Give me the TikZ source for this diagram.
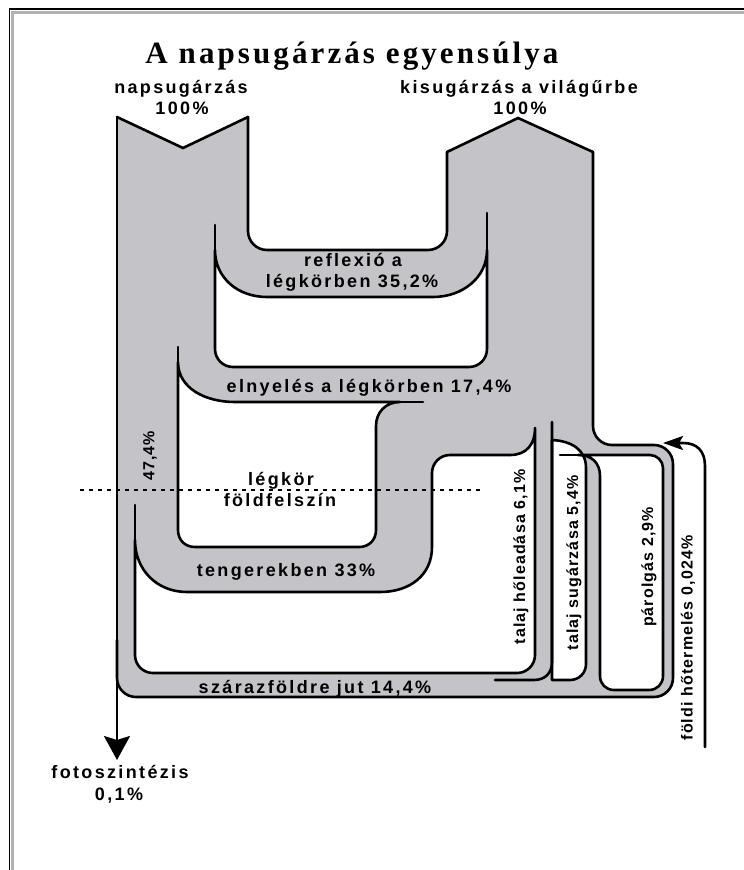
\documentclass[tikz,border=0pt]{standalone}
\usepackage{fontspec}
\newfontfamily\titlefont[LetterSpace=10]{Liberation Serif}
\newfontfamily\lblfont[LetterSpace=13]{Liberation Sans}
\newfontfamily\rotfont[LetterSpace=7]{Liberation Sans}
\usetikzlibrary{arrows.meta}
\definecolor{bandgray}{RGB}{196,196,200}
\begin{document}
\begin{tikzpicture}[x=1pt,y=-1pt,
  outline/.style={line width=2.6pt, line join=round, line cap=round},
  sharpline/.style={line width=2.6pt, line join=miter, line cap=round},
  hole/.style={fill=white},
  title/.style={inner sep=0pt, anchor=base, font=\titlefont\bfseries\fontsize{31}{34}\selectfont},
  lbl/.style={inner sep=0pt, anchor=base, font=\lblfont\bfseries\fontsize{18}{20}\selectfont},
  rotlbl/.style={inner sep=0pt, rotate=90, font=\rotfont\bfseries\fontsize{16}{18}\selectfont},
]
\useasboundingbox (0,0) rectangle (744,870);
% frame
\draw[line width=3pt, gray!60] (12.5,870) -- (12.5,12) -- (744,12);
\draw[line width=1.5pt, black] (9.5,870) -- (9.5,9) -- (744,9);

% gray bands
\fill[bandgray] (117,117) -- (183,148) -- (248,117) -- (248,230) -- (117,230) -- cycle;
\fill[bandgray] (447,152) -- (518,118) -- (593,152) -- (593,240) -- (447,240) -- cycle;
\fill[bandgray, rounded corners=19pt] (117,200) -- (248,200) -- (248,250) -- (447,250) -- (447,200) -- (593,200) -- (593,445) -- (673,445) -- (673,697) -- (117,697) -- cycle;

% outer outline
\draw[sharpline] (117,117) -- (183,148) -- (248,117);
\draw[outline, rounded corners=19pt] (248,117) -- (248,250) -- (447,250) -- (447,152);
\draw[sharpline] (447,152) -- (518,118) -- (593,152);
\draw[outline, rounded corners=19pt] (593,152) -- (593,445) -- (673,445) -- (673,697) -- (117,697) -- (117,640);
\draw[outline] (117,117) -- (117,697);

% W2 : below reflexio
\filldraw[hole, outline] (215,250) .. controls (215,278) and (238,297) .. (267,297) -- (433,297) .. controls (462,297) and (487,278) .. (487,250) -- (487,349) .. controls (487,359) and (479,367) .. (469,367) -- (233,367) .. controls (223,367) and (215,359) .. (215,349) -- cycle;
\draw[outline] (215,225) -- (215,252);
\draw[outline] (487,213) -- (487,252);

% W3 : below elnyeles
\filldraw[hole, outline] (178,362) .. controls (178,388) and (205,402) .. (235,402) -- (400,402) .. controls (386,402) and (376,412) .. (376,426) -- (376,530) .. controls (376,540) and (369,547) .. (359,547) -- (195,547) .. controls (185,547) and (178,540) .. (178,530) -- cycle;
\draw[outline] (178,347) -- (178,364);
\draw[outline] (398,402) -- (423,402);

% W4 : below tengerekben
\filldraw[hole, outline] (135,540) .. controls (135,570) and (157,592) .. (187,592) -- (380,592) .. controls (410,592) and (432,575) .. (432,547) -- (432,473) .. controls (432,463) and (440,455) .. (450,455) -- (510,455) .. controls (526,455) and (535,445) .. (535,428) -- (535,655) .. controls (535,665) and (527,673) .. (517,673) -- (153,673) .. controls (143,673) and (135,665) .. (135,655) -- cycle;
\draw[outline] (135,505) -- (135,542);

% W5 : talaj sugarzasa
\filldraw[hole, outline] (552,440) .. controls (572,441) and (586,450) .. (586,468) -- (586,664) .. controls (586,673) and (579,680) .. (570,680) -- (552,680) -- cycle;
\draw[outline] (552,422) -- (552,662) .. controls (552,673) and (545,680) .. (534,680) -- (495,680);

% W6 : parolgas
\filldraw[hole, outline] (600,476) .. controls (600,463) and (592,455) .. (578,455) -- (650,455) .. controls (657,455) and (663,461) .. (663,468) -- (663,676) .. controls (663,684) and (657,690) .. (649,690) -- (614,690) .. controls (606,690) and (600,684) .. (600,676) -- cycle;
\draw[outline] (578,455) -- (560,455);

% dotted boundary line
\draw[line width=2.2pt, dash pattern=on 4pt off 5pt] (80,490) -- (480,490);

% texts
\node[title] (title) at (352,63) {A napsugárzás egyensúlya};
\node[lbl] (nap) at (181,93) {napsugárzás};
\node[lbl] (nap100) at (182,114) {100\%};
\node[lbl] (kis) at (519,93) {kisugárzás a világűrbe};
\node[lbl] (kis100) at (520,114) {100\%};
\node[lbl] (refl1) at (353,266) {reflexió a};
\node[lbl] (refl2) at (352,287) {légkörben 35,2\%};
\node[lbl] (elny) at (369,392) {elnyelés a légkörben 17,4\%};
\node[lbl] (legk) at (281,485) {légkör};
\node[lbl] (fold) at (280,506) {földfelszín};
\node[lbl] (teng) at (286,576) {tengerekben 33\%};
\node[lbl] (szar) at (315,693) {szárazföldre jut 14,4\%};
\node[lbl] (foto) at (120,778) {fotoszintézis};
\node[lbl] (foto2) at (119,800) {0,1\%};
\node[rotlbl] (p474) at (150,456) {47,4\%};
\node[rotlbl] (hol) at (521,557) {talaj hőleadása 6,1\%};
\node[rotlbl] (sug) at (574,563) {talaj sugárzása 5,4\%};
\node[rotlbl] (par) at (649,567) {párolgás 2,9\%};
\node[rotlbl] (hot) at (688,638) {földi hőtermelés 0,024\%};

% arrows
\coordinate (fstart) at (117,697);
\coordinate (ftip) at (117,760);
\draw[outline, -{Stealth[length=24pt,width=26pt,inset=4pt]}] (fstart) -- (ftip);
\coordinate (hstart) at (705,747);
\coordinate (htip) at (663,443);
\draw[outline, -{Stealth[length=20pt,width=14pt,inset=4pt]}] (hstart) -- (705,466) .. controls (705,451) and (697,443) .. (683,443) -- (htip);
\end{tikzpicture}
\end{document}
